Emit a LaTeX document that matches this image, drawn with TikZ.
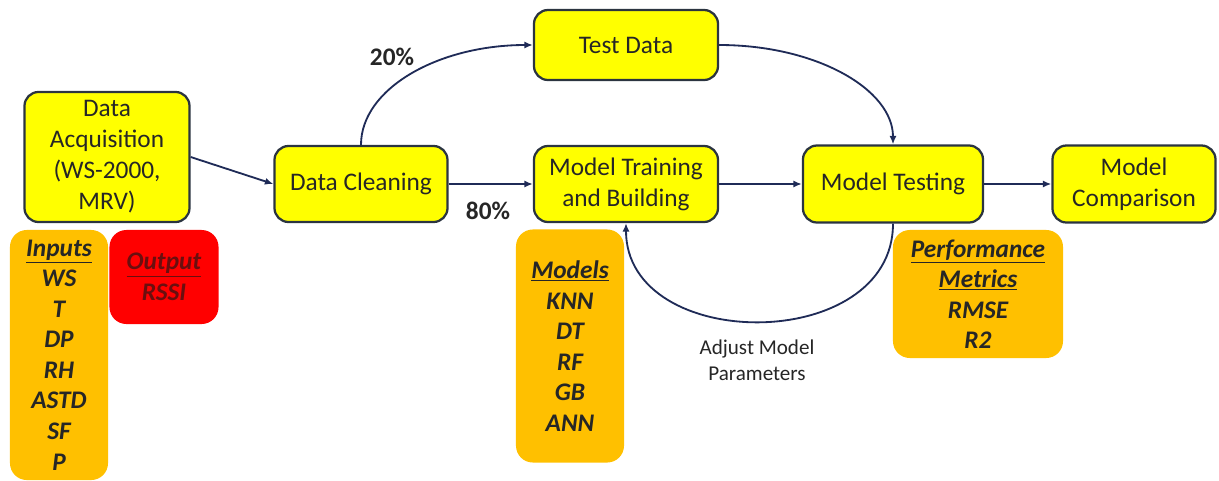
\documentclass[tikz,border=0pt]{standalone}
\usepackage{fontspec}
\setmainfont{Carlito}
\usetikzlibrary{arrows.meta}

\definecolor{boxyellow}{HTML}{FFFF00}
\definecolor{boxorange}{HTML}{FFC000}
\definecolor{boxred}{HTML}{FF0000}
\definecolor{edgeblue}{HTML}{1F2B57}
\definecolor{rimgray}{HTML}{2B3440}
\definecolor{inkgray}{HTML}{262626}
\definecolor{inkred}{HTML}{6A0F0F}

\tikzset{
  stage/.style={draw=rimgray, line width=1.6pt, fill=boxyellow, rounded corners=10pt,
    align=center, text=inkgray, font=\fontsize{18}{22}\selectfont, inner sep=2pt},
  infobox/.style={rounded corners=12pt, align=center, text=inkgray, inner sep=2pt,
    font=\fontsize{18}{21.7}\selectfont\bfseries\itshape},
  flow/.style={draw=edgeblue, line width=1.3pt, -{Latex[length=6pt,width=5pt]}},
  pct/.style={text=inkgray, font=\fontsize{18}{22}\selectfont\bfseries},
}

\begin{document}
\begin{tikzpicture}[x=0.025cm, y=-0.025cm]
        \useasboundingbox (0,0) rectangle (1219,481);

        % Main stages
        \node[stage, minimum width=4.125cm, minimum height=3.25cm] (acq) at (107,157) {Data\\Acquisition\\(WS-2000,\\MRV)};
        \node[stage, minimum width=4.325cm, minimum height=1.9cm] (clean) at (361,184) {Data Cleaning};
        \node[stage, minimum width=4.6cm, minimum height=1.75cm] (test) at (626,45) {Test Data};
        \node[stage, minimum width=4.6cm, minimum height=1.9cm] (train) at (626,184) {Model Training\\and Building};
        \node[stage, minimum width=4.5cm, minimum height=1.925cm] (testing) at (893,184) {Model Testing};
        \node[stage, minimum width=4.075cm, minimum height=1.925cm] (compare) at (1134,184) {Model\\Comparison};

        % Side notes
        \node[infobox, fill=boxorange, minimum width=2.45cm, minimum height=6.25cm] (inputs) at (59,355)
            {\underline{Inputs}\\WS\\T\\DP\\RH\\ASTD\\SF\\P};
        \node[infobox, fill=boxred, text=inkred, minimum width=2.725cm, minimum height=2.35cm] (output) at (164,277)
            {\underline{Output}\\RSSI};
        \node[infobox, fill=boxorange, minimum width=2.7cm, minimum height=5.825cm] (models) at (570,346)
            {\underline{Models}\\KNN\\DT\\RF\\GB\\ANN};
        \node[infobox, fill=boxorange, minimum width=4.25cm, minimum height=3.2cm] (metrics) at (978,294)
            {\underline{Performance}\\\underline{Metrics}\\RMSE\\R2};

        % Split labels
        \node[pct] (p20) at (392,57) {20\%};
        \node[pct] (p80) at (488,211) {80\%};
        \node[align=center, text=inkgray, font=\fontsize{15}{18.4}\selectfont] (adjust) at (757,360) {Adjust Model\\Parameters};

        % Flow
        \draw[flow] (acq.east) -- (clean.west);
        \draw[flow] (clean.east) -- (train.west);
        \draw[flow] (clean.north) .. controls +(0,-56) and +(-95,0) .. (test.west);
        \draw[flow] (test.east) .. controls +(97,0) and +(0,-55) .. (testing.north);
        \draw[flow] (train.east) -- (testing.west);
        \draw[flow] (testing.east) -- (compare.west);
        \draw[flow] (testing.south) to[out=-90, in=-90, looseness=1.25] (train.south);
    \end{tikzpicture}
\end{document}
